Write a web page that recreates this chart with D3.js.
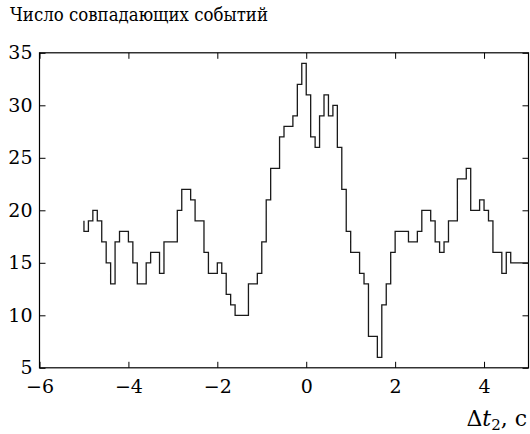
<!DOCTYPE html>
<html>
<head>
<meta charset="utf-8">
<script src="https://cdn.jsdelivr.net/npm/d3@7"></script>
<style>
  body { margin: 0; background: #fff; }
  svg { display: block; }
</style>
</head>
<body>
<svg width="530" height="434"></svg>
<script>
// histogram of coincidences, bins of 0.1 s starting at -5 s
var binStart = -5,
    binWidth = 0.1;
// first value is the level the trace starts from, then one count per bin
var counts = [19,
    18, 19, 20, 19, 17, 15, 13, 17, 18, 18,
    17, 15, 13, 13, 15, 16, 16, 14, 17, 17,
    17, 20, 22, 22, 21, 19, 19, 16, 14, 14,
    15, 14, 12, 11, 10, 10, 10, 13, 13, 14,
    17, 21, 24, 24, 27, 28, 28, 29, 32, 34,
    31, 27, 26, 29, 31, 29, 30, 26, 22, 18,
    16, 16, 14, 13, 8, 8, 6, 11, 13, 16,
    18, 18, 18, 17, 17, 18, 20, 20, 19, 17,
    16, 17, 19, 19, 23, 23, 24, 20, 20, 21,
    20, 19, 16, 16, 14, 16, 15, 15, 15, 15];

var xTicks = [-6, -4, -2, 0, 2, 4],
    yTicks = [5, 10, 15, 20, 25, 30, 35];

var serif = "DejaVu Serif";

var svg = d3.select("svg");

var plotLeft = 39.5, plotRight = 528.5, plotTop = 52.8, plotBottom = 367.8;

var x = d3.scaleLinear().domain([-6, 5]).range([plotLeft, plotRight]);
var y = d3.scaleLinear().domain([5, 35]).range([plotBottom, plotTop]);

var fmt = d3.format("");

// axes with inward ticks on all four sides
svg.append("g")
    .attr("transform", "translate(0," + plotBottom + ")")
    .call(d3.axisBottom(x).tickValues(xTicks).tickFormat(fmt).tickSize(-6).tickPadding(12));
svg.append("g")
    .attr("transform", "translate(0," + plotTop + ")")
    .call(d3.axisTop(x).tickValues(xTicks).tickFormat("").tickSize(-6));
svg.append("g")
    .attr("transform", "translate(" + plotLeft + ",0)")
    .call(d3.axisLeft(y).tickValues(yTicks).tickFormat(fmt).tickSize(-6).tickPadding(7));
svg.append("g")
    .attr("transform", "translate(" + plotRight + ",0)")
    .call(d3.axisRight(y).tickValues(yTicks).tickFormat("").tickSize(-6));

svg.selectAll(".domain").remove();
svg.selectAll(".tick line").attr("stroke", "#000").attr("stroke-width", 1);
svg.selectAll(".tick text")
    .attr("font-family", serif)
    .attr("font-size", 19)
    .attr("fill", "#000");

// frame
svg.append("rect")
    .attr("x", plotLeft)
    .attr("y", plotTop)
    .attr("width", plotRight - plotLeft)
    .attr("height", plotBottom - plotTop)
    .attr("fill", "none")
    .attr("stroke", "#000")
    .attr("stroke-width", 1.2);

// step trace
var line = d3.line()
    .x((d, i) => x(binStart + i * binWidth))
    .y(d => y(d))
    .curve(d3.curveStepBefore);

svg.append("path")
    .datum(counts)
    .attr("d", line)
    .attr("fill", "none")
    .attr("stroke", "#1a1a1a")
    .attr("stroke-width", 1.3);

// title, squeezed a bit to the width it has in the original
svg.append("text")
    .attr("x", 10)
    .attr("y", 21)
    .attr("font-family", serif)
    .attr("font-size", 18.5)
    .attr("textLength", 258)
    .attr("lengthAdjust", "spacingAndGlyphs")
    .text("Число совпадающих событий");

var xl = svg.append("text")
    .attr("x", 527)
    .attr("y", 426)
    .attr("text-anchor", "end")
    .attr("font-family", serif)
    .attr("font-size", 22);
xl.append("tspan").text("Δ");
xl.append("tspan").attr("font-style", "italic").text("t");
xl.append("tspan").attr("dy", 4).attr("font-size", 15).text("2");
xl.append("tspan").attr("dy", -4).text(", с");
</script>
</body>
</html>
